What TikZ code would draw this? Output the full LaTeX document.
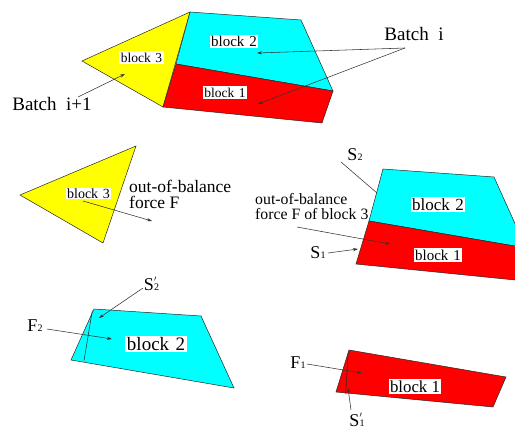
\documentclass[tikz,border=0pt]{standalone}
\usepackage{fontspec}
\setmainfont{Liberation Serif}
\usetikzlibrary{arrows.meta}

\definecolor{blockcyan}{RGB}{0,255,255}
\definecolor{blockred}{RGB}{255,0,0}
\definecolor{blockyellow}{RGB}{255,255,0}

\newcommand{\fs}[1]{\fontsize{#1}{#1}\selectfont}
% S with a small subscript, and S' with the prime stacked over the subscript
\newcommand{\Ssub}[2]{#1{\fs{10}#2}}
\newcommand{\Sprime}[2]{#1\rlap{\raisebox{5pt}{\fs{12}$'$}}{\fs{10}#2}}

\begin{document}
\begin{tikzpicture}[x=1pt,y=-1pt,
  outline/.style={draw=black!85,line width=0.5pt,line join=miter},
  tag/.style={fill=white,inner sep=1.5pt},
  word/.style={inner sep=0pt,align=left},
  lead/.style={draw=black!80,line width=0.55pt},
  pointer/.style={lead,-{Stealth[length=5pt,width=3.2pt]}}]
\useasboundingbox (0,0) rectangle (515,433);

% ---------- batches i and i+1 ----------
\filldraw[outline,fill=blockyellow] (82,61) -- (190,12) -- (163,107) -- cycle;
\filldraw[outline,fill=blockcyan]   (190,12) -- (301,20) -- (333,91) -- (176,64) -- cycle;
\filldraw[outline,fill=blockred]    (176,64) -- (333,91) -- (322,123) -- (163,107) -- cycle;

\node[tag,font=\fs{13.5}] (t3) at (141.5,57.5) {block\,\,3};
\node[tag,font=\fs{15}]   (t2) at (234,41.5) {block\,\,2};
\node[tag,font=\fs{13.5}] (t1) at (225,92.5) {block\,\,1};

\node[word,font=\fs{19}] (bi)  at (414,34) {Batch\,\,\,i};
\node[word,font=\fs{19}] (bi1) at (52,104) {Batch\,\,\,i+1};
\coordinate (bi-foot) at (405,48);
\coordinate (in2) at (257,53);
\coordinate (in1) at (258,104);
\coordinate (bi1-top) at (78,97);
\coordinate (in3) at (125,74);
\draw[pointer] (bi-foot) -- (in2);
\draw[pointer] (bi-foot) -- (in1);
\draw[pointer] (bi1-top) -- (in3);

% ---------- block 3 alone ----------
\filldraw[outline,fill=blockyellow] (20,195) -- (136,146) -- (103,243) -- cycle;
\node[tag,inner sep=1pt,font=\fs{14}] (m3) at (88.5,193.5) {block\,\,3};
\node[word,anchor=north west,font=\fs{17.5}] (oobF) at (129,179.5) {out-of-balance\\[-1pt]force F};
\coordinate (m3-tail) at (83,201);
\coordinate (F-tip) at (152,221);
\draw[pointer] (m3-tail) -- (F-tip);

% ---------- blocks 1 and 2 under the force of block 3 ----------
\begin{scope}
  \clip (0,0) rectangle (515,433);
  \begin{scope}[shift={(193,157)}]
    \filldraw[outline,fill=blockcyan] (190,12) -- (301,20) -- (333,91) -- (176,64) -- cycle;
    \filldraw[outline,fill=blockred]  (176,64) -- (333,91) -- (322,123) -- (163,107) -- cycle;
  \end{scope}
\end{scope}
\node[tag,font=\fs{17}]   (r2) at (438,204.5) {block\,\,2};
\node[tag,font=\fs{15}]   (r1) at (438,255) {block\,\,1};

\node[word,font=\fs{18}] (s2) at (355,155) {\Ssub{S}{2}};
\node[word,font=\fs{18}] (s1) at (318,253) {\Ssub{S}{1}};
\node[word,anchor=north west,font=\fs{15.8}] (oobF3) at (255,193) {out-of-balance\\[-1pt]force F of block 3};
\coordinate (s2-end) at (377,193);
\coordinate (s1-end) at (358,249);
\coordinate (oob-tail) at (297,227);
\coordinate (oob-tip) at (390,244);
\draw[lead]    (341,162) -- (s2-end);
\draw[pointer] (328,253) -- (s1-end);
\draw[pointer] (oob-tail) -- (oob-tip);

% ---------- block 2 alone ----------
\filldraw[outline,fill=blockcyan] (94,309) -- (201,316) -- (234,388) -- (71,360) -- cycle;
\draw[outline] (92.3,310.5) -- (84,360.7);
\node[tag,font=\fs{19}] (b2) at (156,344) {block\,\,2};
\node[word,font=\fs{18}] (sp2) at (151.5,284) {\Sprime{S}{2}};
\node[word,font=\fs{18}] (f2) at (35,326) {\Ssub{F}{2}};
\coordinate (sp2-tip) at (99,318);
\coordinate (f2-tip) at (112,339);
\draw[pointer] (143,288) -- (sp2-tip);
\draw[pointer] (47,329) -- (f2-tip);

% ---------- block 1 alone ----------
\filldraw[outline,fill=blockred] (349,350) -- (506,377) -- (493,407) -- (336,392) -- cycle;
\draw[outline] (348.3,351.7) -- (345.7,394);
\node[tag,font=\fs{16.8}] (b1) at (415,386.5) {block 1};
\node[word,font=\fs{18}] (f1) at (298,363) {\Ssub{F}{1}};
\node[word,font=\fs{18}] (sp1) at (357,420) {\Sprime{S}{1}};
\coordinate (f1-tip) at (362,373);
\coordinate (sp1-tip) at (348,388);
\draw[pointer] (307,364) -- (f1-tip);
\draw[pointer] (351,410) -- (sp1-tip);
\end{tikzpicture}
\end{document}
